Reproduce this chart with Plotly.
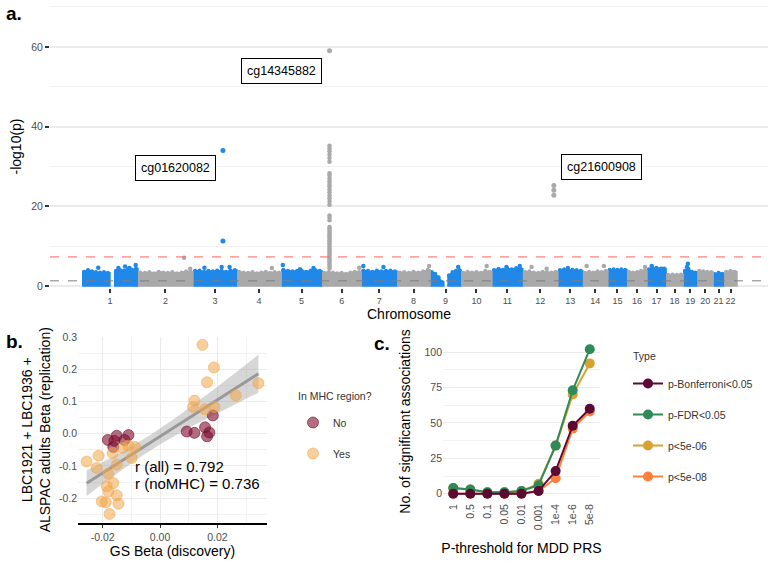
import numpy as np
import plotly.graph_objects as go

W, H = 778, 563
FONT = "Liberation Sans"
TICK_GREY = "#4d4d4d"

# ---------------- panel a: Manhattan plot ----------------
chrom_names = [str(i) for i in range(1, 23)]
# plotted span of each chromosome (Mb)
chrom_span_mb = [246, 242, 194, 194, 180, 172, 158, 145, 136, 136, 136,
                 154, 110, 110, 84, 88, 84, 75, 62, 70, 48, 57]
# upper edge of the dense cloud of probes, sampled along each chromosome (None = gap)
band_top = [
    [3.6, 4.0, 3.7, 3.5, 3.4, 3.5, 3.3, None, 3.8, 4.0, 3.9, 4.3, 4.1, 4.4],
    [3.4, 3.3, 3.5, 3.2, 3.6, 3.4, 3.3, 3.5, 3.2, 3.4, 3.7, 3.6],
    [3.8, 3.9, 3.6, 3.8, 3.7, 3.9, 3.8, 3.6, 3.9, 4.0],
    [3.6, 3.4, 3.3, 3.5, 3.2, 3.4, 3.6, 3.3, 3.5, 3.4],
    [4.1, 3.8, 3.7, 3.8, 3.9, 3.6, 3.9, 4.0, 3.8],
    [3.3, 3.5, 3.4, 3.2, 3.3, 3.1, 3.4, 3.6, 3.5],
    [3.9, 3.8, 3.6, 3.9, 3.7, 3.8, 3.9, 3.7],
    [3.4, 3.5, 3.3, 3.6, 3.4, 3.7, 4.1],
    [3.5, 3.1, 2.2, 1.0, None, 2.7, 3.5, 3.8, 4.0],
    [3.3, 3.6, 3.4, 3.5, 3.3, 3.8, 3.6],
    [4.0, 4.3, 4.1, 4.4, 4.2, 4.5, 4.3],
    [3.5, 3.7, 3.4, 3.3, 3.6, 3.5, 3.4, 3.6],
    [4.0, 4.2, 3.9, 4.1, 4.0, 3.8],
    [3.3, 3.6, 3.4, 3.7, 3.5, 3.8],
    [4.1, 4.2, 4.1, 4.2, 4.1],
    [3.6, 3.4, 3.5, 3.8, 3.9],
    [4.2, 4.5, 4.6, 4.3, 4.4],
    [2.8, 2.9, 2.8, 2.9],
    [3.8, 4.3, 3.6, 3.4],
    [3.8, 3.7, 3.6, 3.5],
    [3.0, 3.3, 3.1],
    [3.6, 3.8, 3.6],
]
# scattered probes just above the cloud
dot_chrom = [1, 1, 1, 1, 1, 2, 2, 3, 3, 3, 4, 5, 5, 5, 6, 7, 7, 8, 9, 10,
             11, 11, 12, 12, 13, 14, 14, 16, 17, 17, 19, 19]
dot_frac = [0.29, 0.65, 0.77, 0.85, 0.96, 0.84, 0.95, 0.26, 0.65, 0.83, 0.79,
            0.04, 0.46, 0.79, 0.95, 0.06, 0.62, 0.97, 0.91, 0.83, 0.47, 0.90,
            0.25, 0.68, 0.40, 0.15, 0.84, 0.90, 0.25, 0.77, 0.34, 0.27]
dot_logp = [4.6, 4.5, 4.9, 4.5, 5.3, 7.1, 4.3, 4.6, 4.75, 4.75, 4.5, 5.3, 4.2,
            4.5, 4.6, 5.0, 4.75, 5.0, 4.75, 5.0, 4.75, 5.0, 4.75, 4.3, 4.5,
            5.0, 5.0, 4.75, 5.0, 4.3, 5.6, 4.75]
# significant probes
hit_chrom = [3, 3, 6, 12, 12, 12]
hit_frac = [0.68, 0.68, 0.19, 0.886, 0.886, 0.886]
hit_logp = [34.0, 11.3, 59.0, 25.2, 24.0, 22.8]
# MHC column on chromosome 6
mhc_frac = 0.19
mhc_logp = [35.2, 34.5, 33.8, 33.0, 32.1, 31.2, 28.3, 27.7, 27.0, 26.3, 25.6,
            25.0, 24.2, 23.5, 22.7, 22.0, 21.2, 20.4, 17.7, 17.2, 16.5, 14.8,
            14.4, 13.9, 13.4, 13.0, 12.5, 12.1, 11.6, 11.2, 10.7, 10.3, 9.8,
            9.4, 8.9, 8.5, 8.0, 7.6, 7.1, 6.7, 6.2, 5.8, 5.3, 4.9, 4.4]
label_text = ["cg14345882", "cg01620082", "cg21600908"]
label_chrom = [5, 2, 14]
label_frac = [0.02, 0.69, 0.76]
label_y = [54.0, 29.5, 29.8]

BLUE = "#1f88e8"
GREY = "#a9a9a9"

# ---------------- panel b: replication scatter ----------------
mhc_no_x = [0.0184, 0.0093, 0.0120, 0.0157, 0.0172, 0.0164,
            -0.0151, -0.0110, -0.0182, -0.0159, -0.0124, -0.0163]
mhc_no_y = [0.057, 0.007, 0.003, 0.020, 0.004, -0.008,
            -0.006, -0.004, -0.019, -0.022, -0.019, -0.041]
mhc_yes_x = [0.0148, 0.0188, 0.0164, 0.0343, 0.0264, 0.0120, 0.0115, 0.0157,
             0.0190, -0.0256, -0.0214, -0.0221, -0.0180, -0.0163, -0.0186,
             -0.0180, -0.0151, -0.0203, -0.0189, -0.0145, -0.0176, -0.0165,
             -0.0130, -0.0099, -0.0087, -0.0110, -0.0151]
mhc_yes_y = [0.276, 0.206, 0.160, 0.157, 0.119, 0.103, 0.083, 0.076, 0.083,
             -0.086, -0.068, -0.106, -0.124, -0.153, -0.163, -0.179, -0.191,
             -0.210, -0.213, -0.217, -0.249, -0.060, -0.044, -0.075, -0.041,
             -0.037, -0.096]

# ---------------- panel c: PRS thresholds ----------------
thresholds = ["1", "0.5", "0.1", "0.05", "0.01", "0.001", "1e-4", "1e-6", "5e-8"]
n_bonf = [0, 0, 0, 0, 0, 2, 16, 48, 60]
n_fdr = [4, 3, 1, 1, 2, 6, 34, 73, 102]
n_p5e06 = [4, 3, 1, 1, 2, 7, 34, 70, 92]
n_p5e08 = [0, 0, 0, 0, 0, 2, 11, 46, 58]
type_names = ["p-Bonferroni<0.05", "p-FDR<0.05", "p<5e-06", "p<5e-08"]
type_colors = ["#5c0a33", "#2e8b57", "#d9a12e", "#ff7f3c"]


def px_x(p):
    return p / W


def px_y(p):
    return 1 - p / H


fig = go.Figure()

# ---- panel a traces ----
starts = np.concatenate([[0], np.cumsum(chrom_span_mb)[:-1]])
total = float(np.sum(chrom_span_mb))
poly = {BLUE: ([], []), GREY: ([], [])}
tops = {BLUE: ([], []), GREY: ([], [])}
for i, vals in enumerate(band_top):
    col = BLUE if i % 2 == 0 else GREY
    n = len(vals)
    step = chrom_span_mb[i] / n
    xs = [starts[i] + (k + 0.5) * step for k in range(n)]
    seg = []
    for k in range(n + 1):
        if k == n or vals[k] is None:
            if seg:
                sx = [xs[j] for j in seg]
                sy = [vals[j] for j in seg]
                px_ = [sx[0] - step / 2] + sx + [sx[-1] + step / 2, sx[-1] + step / 2, sx[0] - step / 2]
                py_ = [sy[0]] + sy + [sy[-1], 0, 0]
                poly[col][0].extend(px_ + [None])
                poly[col][1].extend(py_ + [None])
                tops[col][0].extend(sx)
                tops[col][1].extend(sy)
            seg = []
        else:
            seg.append(k)

for col in (BLUE, GREY):
    fig.add_trace(go.Scatter(x=poly[col][0], y=poly[col][1], fill="toself", fillcolor=col,
                             mode="lines", line=dict(color=col, width=1.5),
                             showlegend=False, hoverinfo="skip", xaxis="x", yaxis="y"))
    fig.add_trace(go.Scatter(x=tops[col][0], y=tops[col][1], mode="markers",
                             marker=dict(color=col, size=4), showlegend=False,
                             hoverinfo="skip", xaxis="x", yaxis="y"))

dx = [starts[c - 1] + f * chrom_span_mb[c - 1] for c, f in zip(dot_chrom, dot_frac)]
dcol = [BLUE if c % 2 == 1 else GREY for c in dot_chrom]
fig.add_trace(go.Scatter(x=dx, y=dot_logp, mode="markers", marker=dict(color=dcol, size=4.5),
                         showlegend=False, xaxis="x", yaxis="y"))

mx = starts[5] + mhc_frac * chrom_span_mb[5]
fig.add_trace(go.Scatter(x=[mx] * len(mhc_logp), y=mhc_logp, mode="markers",
                         marker=dict(color=GREY, size=4.5), showlegend=False,
                         xaxis="x", yaxis="y"))
hx = [starts[c - 1] + f * chrom_span_mb[c - 1] for c, f in zip(hit_chrom, hit_frac)]
hcol = [BLUE if c % 2 == 1 else GREY for c in hit_chrom]
fig.add_trace(go.Scatter(x=hx, y=hit_logp, mode="markers", marker=dict(color=hcol, size=5),
                         showlegend=False, xaxis="x", yaxis="y"))

# ---- panel b traces ----
all_x = np.array(mhc_no_x + mhc_yes_x)
all_y = np.array(mhc_no_y + mhc_yes_y)
slope, icpt = np.polyfit(all_x, all_y, 1)
xf = np.linspace(all_x.min(), all_x.max(), 60)
yf = icpt + slope * xf
n = len(all_x)
resid = all_y - (icpt + slope * all_x)
s = np.sqrt(np.sum(resid ** 2) / (n - 2))
sxx = np.sum((all_x - all_x.mean()) ** 2)
se = s * np.sqrt(1 / n + (xf - all_x.mean()) ** 2 / sxx)
tval = 2.01
fig.add_trace(go.Scatter(x=np.concatenate([xf, xf[::-1]]),
                         y=np.concatenate([yf + tval * se, (yf - tval * se)[::-1]]),
                         fill="toself", fillcolor="rgba(153,153,153,0.4)", mode="lines",
                         line=dict(width=0), showlegend=False, hoverinfo="skip",
                         xaxis="x2", yaxis="y2"))
fig.add_trace(go.Scatter(x=xf, y=yf, mode="lines", line=dict(color="#999999", width=3),
                         showlegend=False, xaxis="x2", yaxis="y2"))
fig.add_trace(go.Scatter(x=mhc_no_x, y=mhc_no_y, mode="markers", name="No",
                         marker=dict(size=11, color="rgba(125,12,45,0.6)",
                                     line=dict(color="rgba(125,12,45,0.6)", width=1)),
                         legend="legend", legendgroup="no", xaxis="x2", yaxis="y2"))
fig.add_trace(go.Scatter(x=mhc_yes_x, y=mhc_yes_y, mode="markers", name="Yes",
                         marker=dict(size=11, color="rgba(240,165,75,0.55)",
                                     line=dict(color="rgba(240,165,75,0.55)", width=1)),
                         legend="legend", legendgroup="yes", xaxis="x2", yaxis="y2"))

# ---- panel c traces (drawn last-first so Bonferroni sits on top) ----
series_c = [n_bonf, n_fdr, n_p5e06, n_p5e08]
for k in range(3, -1, -1):
    fig.add_trace(go.Scatter(x=list(range(len(thresholds))), y=series_c[k], mode="lines+markers",
                             name=type_names[k], line=dict(color=type_colors[k], width=2),
                             marker=dict(color=type_colors[k], size=10),
                             legend="legend2", legendgroup=type_names[k], legendrank=k + 1,
                             xaxis="x3", yaxis="y3"))

# ---- layout ----
k_px = 655 / total  # px per Mb
tick_pos = [starts[i] + chrom_span_mb[i] / 2 for i in range(22)]
tickfont = dict(family=FONT, size=10.5, color=TICK_GREY)
titlefont = dict(family=FONT, size=14, color="black")
legfont = dict(family=FONT, size=10.5, color="#333")

fig.update_layout(
    width=W, height=H, margin=dict(l=0, r=0, t=0, b=0),
    paper_bgcolor="white", plot_bgcolor="white",
    font=dict(family=FONT),
    xaxis=dict(domain=[px_x(50), px_x(768)], anchor="y", automargin=False,
               range=[-(82 - 50) / k_px, total + (768 - 737) / k_px],
               tickvals=tick_pos, ticktext=chrom_names, ticks="outside", ticklen=4,
               tickwidth=1.5, tickcolor="#333333", tickangle=0,
               tickfont=dict(family=FONT, size=9, color=TICK_GREY),
               showgrid=False, zeroline=False,
               title=dict(text="Chromosome", font=titlefont, standoff=4)),
    yaxis=dict(domain=[px_y(288), px_y(5)], anchor="x", range=[-0.5, 70.5], automargin=False,
               tickvals=[0, 20, 40, 60], ticks="outside", ticklen=4, tickwidth=1.5,
               tickcolor="#333333", tickfont=tickfont, gridcolor="#ebebeb", gridwidth=1.8,
               minor=dict(tickvals=[10, 30, 50, 70], showgrid=True, gridcolor="#f2f2f2",
                          gridwidth=1, ticks=""),
               zeroline=False, title=dict(text="-log10(p)", font=titlefont, standoff=6)),
    xaxis2=dict(domain=[px_x(78), px_x(267)], anchor="y2", range=[-0.0286, 0.0373],
                automargin=False,
                tickvals=[-0.02, 0, 0.02], ticktext=["-0.02", "0.00", "0.02"],
                ticks="outside", ticklen=3, tickcolor="#333333", tickfont=tickfont,
                gridcolor="#ebebeb", gridwidth=1,
                minor=dict(tickvals=[-0.01, 0.01, 0.03], showgrid=True, gridcolor="#f2f2f2"),
                showline=True, linecolor="black", linewidth=2, zeroline=False,
                title=dict(text="GS Beta (discovery)", font=titlefont, standoff=4)),
    yaxis2=dict(domain=[px_y(523), px_y(336.5)], anchor="x2", range=[-0.277, 0.302],
                automargin=False,
                tickvals=[-0.2, -0.1, 0, 0.1, 0.2, 0.3],
                ticktext=["-0.2", "-0.1", "0.0", "0.1", "0.2", "0.3"],
                tickfont=tickfont, gridcolor="#ebebeb", gridwidth=1,
                minor=dict(tickvals=[-0.25, -0.15, -0.05, 0.05, 0.15, 0.25],
                           showgrid=True, gridcolor="#f2f2f2"),
                zeroline=False,
                title=dict(text="LBC1921 + LBC1936 +<br>ALSPAC adults Beta (replication)",
                           font=titlefont, standoff=4)),
    xaxis3=dict(domain=[px_x(443), px_x(600)], anchor="y3", range=[-0.6, 8.6],
                automargin=False,
                tickvals=list(range(len(thresholds))), ticktext=thresholds, tickangle=-90,
                tickfont=tickfont, showgrid=False, zeroline=False,
                title=dict(text="P-threshold for MDD PRS", font=titlefont, standoff=13)),
    yaxis3=dict(domain=[px_y(501), px_y(342)], anchor="x3", range=[-5.1, 107.1],
                automargin=False,
                tickvals=[0, 25, 50, 75, 100], tickfont=tickfont,
                gridcolor="#ebebeb", gridwidth=1,
                minor=dict(tickvals=[12.5, 37.5, 62.5, 87.5], showgrid=True, gridcolor="#f2f2f2"),
                zeroline=False,
                title=dict(text="No. of significant associations", font=titlefont, standoff=10)),
    legend=dict(x=px_x(293), y=px_y(408), xanchor="left", yanchor="top",
                font=legfont, tracegroupgap=12, bgcolor="rgba(0,0,0,0)"),
    legend2=dict(x=px_x(628), y=px_y(369), xanchor="left", yanchor="top",
                 font=legfont, tracegroupgap=12, bgcolor="rgba(0,0,0,0)"),
)

# legend titles
fig.add_annotation(x=px_x(296), y=px_y(396), xref="paper", yref="paper", text="In MHC region?",
                   showarrow=False, xanchor="left", yanchor="middle", font=legfont)
fig.add_annotation(x=px_x(631), y=px_y(356), xref="paper", yref="paper", text="Type",
                   showarrow=False, xanchor="left", yanchor="middle", font=legfont)

# threshold lines in panel a
fig.add_shape(type="line", xref="x domain", yref="y", x0=0, x1=1, y0=7.3, y1=7.3,
              line=dict(color="#ff6060", width=1, dash="dash"), layer="above")
fig.add_shape(type="line", xref="x domain", yref="y", x0=0, x1=1, y0=1.3, y1=1.3,
              line=dict(color="#7f7f7f", width=1, dash="dash"), layer="above")

for t, c, f, yv in zip(label_text, label_chrom, label_frac, label_y):
    fig.add_annotation(x=starts[c - 1] + f * chrom_span_mb[c - 1], y=yv, xref="x", yref="y",
                       text=t, showarrow=False, font=dict(family=FONT, size=12.5, color="black"),
                       bgcolor="white", bordercolor="black", borderwidth=1, borderpad=5)

fig.add_annotation(x=-0.0094, y=-0.103, xref="x2", yref="y2", text="r (all) = 0.792",
                   showarrow=False, xanchor="left", font=dict(family=FONT, size=15, color="black"))
fig.add_annotation(x=-0.0094, y=-0.154, xref="x2", yref="y2", text="r (noMHC) = 0.736",
                   showarrow=False, xanchor="left", font=dict(family=FONT, size=15, color="black"))

for lab, xp, yp in [("a.", 4, 14), ("b.", 4, 341), ("c.", 372, 343)]:
    fig.add_annotation(x=px_x(xp), y=px_y(yp), xref="paper", yref="paper", text="<b>" + lab + "</b>",
                       showarrow=False, xanchor="left", yanchor="middle",
                       font=dict(family=FONT, size=19, color="black"))

# the page body has a default 8px margin; drop it so the figure fills the window
fig.write_html("out.html", config={"displayModeBar": False},
               post_script="document.body.style.margin='0px';")
